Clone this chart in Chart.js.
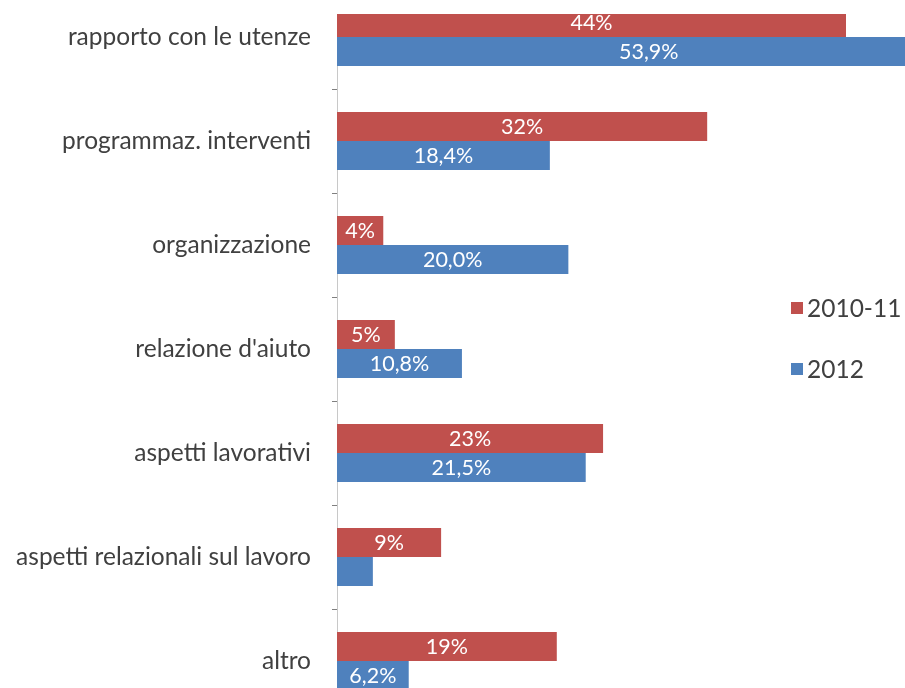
<!DOCTYPE html>
<html>
<head>
<meta charset="utf-8">
<script src="https://cdn.jsdelivr.net/npm/chart.js@4/dist/chart.umd.min.js"></script>
<style>
  html, body { margin: 0; padding: 0; background: #fff; overflow: hidden; }
  #frame { position: absolute; left: 0; top: 14px; width: 905px; height: 674px; overflow: hidden; }
  #chart { position: absolute; left: 0; top: -29px; }
</style>
</head>
<body>
<div id="frame"><canvas id="chart" width="905" height="728"></canvas></div>
<script>
const categories = [
    'rapporto con le utenze',
    'programmaz. interventi',
    'organizzazione',
    "relazione d'aiuto",
    'aspetti lavorativi',
    'aspetti relazionali sul lavoro',
    'altro'
];
const values2010 = [44, 32, 4, 5, 23, 9, 19];
const values2012 = [53.9, 18.4, 20.0, 10.8, 21.5, 3.1, 6.2];
const seriesNames = ['2010-11', '2012'];

const FONT = 'Lato, "Open Sans", sans-serif';

// white value labels in the middle of each bar
const barLabels = {
    id: 'barLabels',
    afterDatasetsDraw(chart) {
        const ctx = chart.ctx;
        ctx.save();
        ctx.font = '21.5px ' + FONT;
        ctx.fillStyle = '#ffffff';
        ctx.textAlign = 'center';
        ctx.textBaseline = 'middle';
        chart.data.datasets.forEach((ds, di) => {
            chart.getDatasetMeta(di).data.forEach((bar, i) => {
                const v = ds.data[i];
                if (Math.abs(bar.x - bar.base) < 40) return;
                const text = di === 0 ? v + '%' : v.toFixed(1).replace('.', ',') + '%';
                ctx.fillText(text, (bar.x + bar.base) / 2, bar.y + 1);
            });
        });
        ctx.restore();
    }
};

// legend sits over the right side of the plot
const sideLegend = {
    id: 'sideLegend',
    afterDraw(chart) {
        const ctx = chart.ctx;
        ctx.save();
        ctx.font = '24.5px ' + FONT;
        ctx.textBaseline = 'middle';
        chart.data.datasets.forEach((ds, di) => {
            const y = 323 + di * 61;
            ctx.fillStyle = ds.backgroundColor;
            ctx.fillRect(791, y - 6, 12, 12);
            ctx.fillStyle = '#404040';
            ctx.fillText(ds.label, 807, y + 1);
        });
        ctx.restore();
    }
};

new Chart(document.getElementById('chart'), {
    type: 'bar',
    data: {
        labels: categories,
        datasets: [
            { label: seriesNames[0], data: values2010, backgroundColor: '#C0504D' },
            { label: seriesNames[1], data: values2012, backgroundColor: '#4F81BD' }
        ]
    },
    options: {
        indexAxis: 'y',
        responsive: false,
        animation: false,
        layout: { padding: 0 },
        datasets: {
            bar: { barPercentage: 1, categoryPercentage: 0.56 }
        },
        scales: {
            x: { display: false, min: 0, max: 49.1 },
            y: {
                afterFit(scale) {
                    scale.width = 337;
                    scale.paddingTop = 0;
                    scale.paddingBottom = 0;
                },
                border: { display: true, color: '#c8c8c8', width: 1 },
                grid: {
                    offset: true,
                    drawOnChartArea: false,
                    drawTicks: true,
                    tickLength: 5,
                    color: '#808080'
                },
                ticks: {
                    padding: 21,
                    color: '#404040',
                    font: { family: FONT, size: 24.5 }
                }
            }
        },
        plugins: {
            legend: { display: false },
            tooltip: { enabled: false }
        }
    },
    plugins: [barLabels, sideLegend]
});
</script>
</body>
</html>
